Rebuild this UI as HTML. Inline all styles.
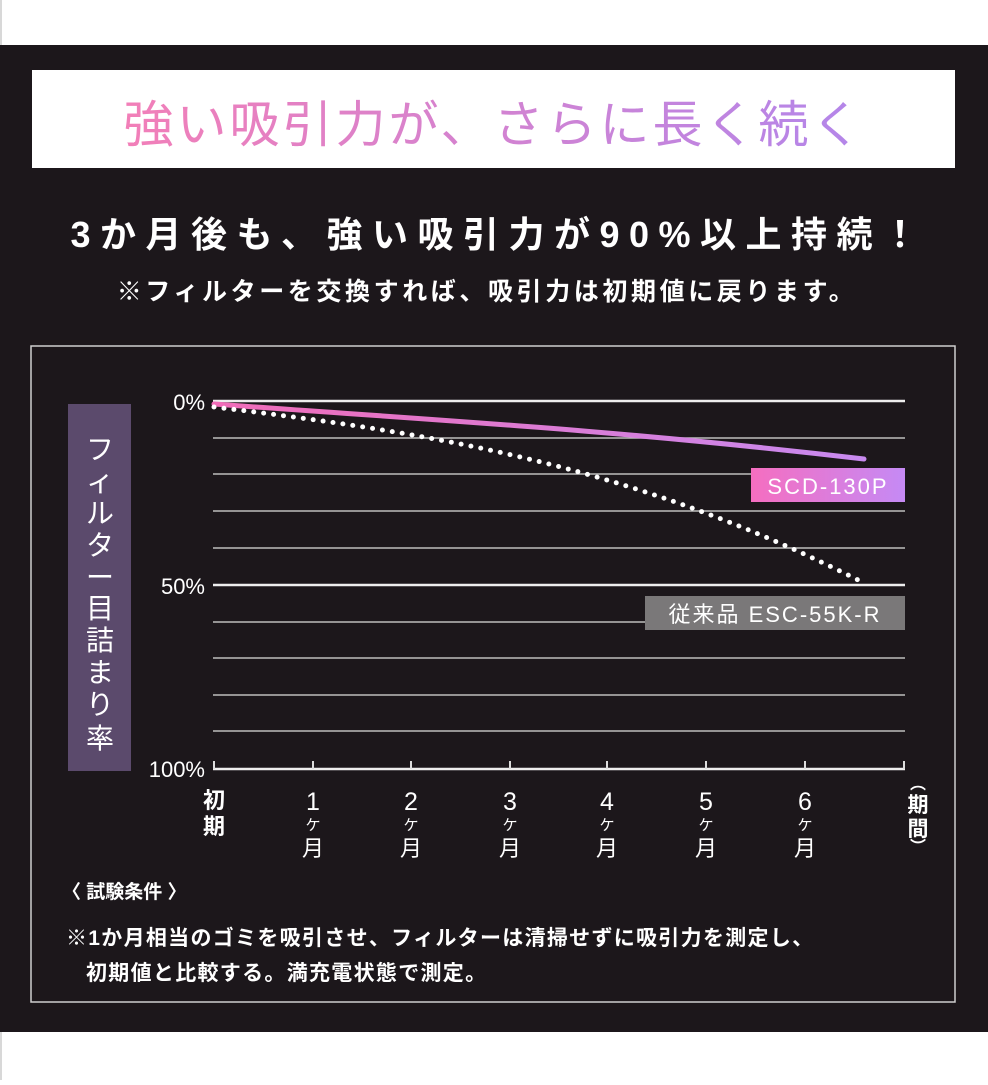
<!DOCTYPE html>
<html><head><meta charset="utf-8"><style>
html,body{margin:0;padding:0;background:#fff;}
body{width:988px;height:1080px;overflow:hidden;position:relative;font-family:"Liberation Sans","Noto Sans CJK JP",sans-serif;}
svg text{font-family:"Liberation Sans","Noto Sans CJK JP",sans-serif;}
</style></head><body>
<svg width="988" height="1080" viewBox="0 0 988 1080" xmlns="http://www.w3.org/2000/svg">
<defs>
<linearGradient id="tg" x1="0" x2="1"><stop offset="0" stop-color="#f27fb8"/><stop offset="1" stop-color="#b386ea"/></linearGradient>
<linearGradient id="lg" x1="0" x2="1"><stop offset="0" stop-color="#f06cb8"/><stop offset="1" stop-color="#c88af0"/></linearGradient>
<linearGradient id="bg" x1="0" x2="1"><stop offset="0" stop-color="#f56ec0"/><stop offset="1" stop-color="#c58af5"/></linearGradient>
</defs>
<rect x="0" y="0" width="2" height="1080" fill="#d8d8d8"/>
<rect x="0" y="45" width="988" height="987" fill="#1c171b"/>
<rect x="32" y="70" width="923" height="98" fill="#fff"/>
<text x="494" y="142" text-anchor="middle" font-size="50" fill="url(#tg)" letter-spacing="3">強い吸引力が、さらに長く続く</text>
<text x="499" y="247" text-anchor="middle" font-size="36" font-weight="bold" fill="#fff" letter-spacing="9.5">3か月後も、強い吸引力が90%以上持続！</text>
<text x="487" y="300" text-anchor="middle" font-size="25" font-weight="bold" fill="#fff" letter-spacing="3.6">※フィルターを交換すれば、吸引力は初期値に戻ります。</text>
<rect x="31" y="346" width="924" height="656" fill="none" stroke="#cfcfcf" stroke-width="1.5"/>
<rect x="68" y="404" width="63" height="367" fill="#5b4a6c"/>
<g font-size="28" fill="#fff" text-anchor="middle">
<text x="100" y="459">フ</text><text x="100" y="491">ィ</text><text x="100" y="523">ル</text><text x="100" y="555">タ</text><text x="100" y="587">ー</text><text x="100" y="618">目</text><text x="100" y="650">詰</text><text x="100" y="682">ま</text><text x="100" y="714">り</text><text x="100" y="748">率</text>
</g>
<g stroke="#bdbdbd" stroke-width="1.5">
<line x1="213" y1="438" x2="905" y2="438"/><line x1="213" y1="474" x2="905" y2="474"/><line x1="213" y1="511" x2="905" y2="511"/><line x1="213" y1="548" x2="905" y2="548"/>
<line x1="213" y1="622" x2="905" y2="622"/><line x1="213" y1="658" x2="905" y2="658"/><line x1="213" y1="695" x2="905" y2="695"/><line x1="213" y1="731" x2="905" y2="731"/>
</g>
<g stroke="#eee" stroke-width="2.5">
<line x1="213" y1="401" x2="905" y2="401"/><line x1="213" y1="585" x2="905" y2="585"/><line x1="213" y1="769" x2="905" y2="769"/>
</g>
<g stroke="#ddd" stroke-width="2">
<line x1="214" y1="761" x2="214" y2="769"/><line x1="313" y1="761" x2="313" y2="769"/><line x1="411" y1="761" x2="411" y2="769"/><line x1="510" y1="761" x2="510" y2="769"/><line x1="607" y1="761" x2="607" y2="769"/><line x1="706" y1="761" x2="706" y2="769"/><line x1="805" y1="761" x2="805" y2="769"/><line x1="904" y1="761" x2="904" y2="769"/>
</g>
<g font-size="22" fill="#fff" text-anchor="end">
<text x="205" y="410">0%</text><text x="205" y="594">50%</text><text x="205" y="777">100%</text>
</g>
<path d="M214,404 C400,418 600,428 864,459" fill="none" stroke="url(#lg)" stroke-width="5" stroke-linecap="round"/>
<path d="M214,407 C420,432 620,460 858,580" fill="none" stroke="#fff" stroke-width="5" stroke-dasharray="0 10" stroke-linecap="round"/>
<rect x="751" y="468" width="154" height="34" fill="url(#bg)"/>
<text x="828" y="494" text-anchor="middle" font-size="22" fill="#fff" letter-spacing="2">SCD-130P</text>
<rect x="645" y="596" width="260" height="34" fill="#7a7879"/>
<text x="775" y="622" text-anchor="middle" font-size="22" fill="#fff" letter-spacing="2">従来品 ESC-55K-R</text>
<g font-size="22" font-weight="bold" fill="#fff" text-anchor="middle">
<text x="214" y="808">初</text><text x="214" y="834">期</text>
</g>
<g fill="#fff" text-anchor="middle">
<g font-size="25"><text x="313" y="810">1</text><text x="411" y="810">2</text><text x="510" y="810">3</text><text x="607" y="810">4</text><text x="706" y="810">5</text><text x="805" y="810">6</text></g>
<g font-size="15"><text x="313" y="830">ケ</text><text x="411" y="830">ケ</text><text x="510" y="830">ケ</text><text x="607" y="830">ケ</text><text x="706" y="830">ケ</text><text x="805" y="830">ケ</text></g>
<g font-size="22"><text x="313" y="856">月</text><text x="411" y="856">月</text><text x="510" y="856">月</text><text x="607" y="856">月</text><text x="706" y="856">月</text><text x="805" y="856">月</text></g>
</g>
<g font-size="21" font-weight="bold" fill="#fff" text-anchor="middle">
<text x="918" y="789" font-size="16">︵</text>
<text x="918" y="812">期</text><text x="918" y="836">間</text>
<text x="918" y="852" font-size="16">︶</text>
</g>
<text x="62" y="898" font-size="19" font-weight="bold" fill="#fff">〈 試験条件 〉</text>
<text x="66" y="945" font-size="21" font-weight="bold" fill="#fff" letter-spacing="1.3">※1か月相当のゴミを吸引させ、フィルターは清掃せずに吸引力を測定し、</text>
<text x="86" y="980" font-size="21" font-weight="bold" fill="#fff" letter-spacing="1.3">初期値と比較する。満充電状態で測定。</text>
</svg>
</body></html>
